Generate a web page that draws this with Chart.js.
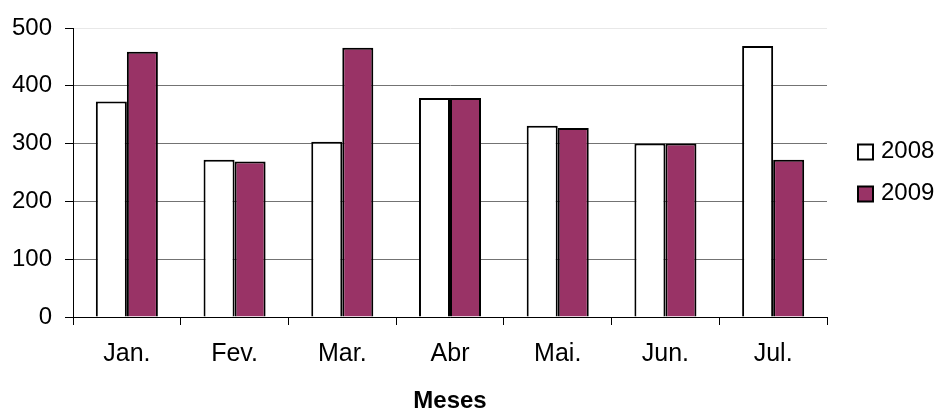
<!DOCTYPE html>
<html>
<head>
<meta charset="utf-8">
<script src="https://cdn.jsdelivr.net/npm/chart.js"></script>
<style>
  html, body { margin: 0; padding: 0; background: #fff; }
  #wrap { width: 937px; height: 410px; }
</style>
</head>
<body>
<div id="wrap"><canvas id="chart" width="937" height="410"></canvas></div>
<script>
const months = ['Jan.', 'Fev.', 'Mar.', 'Abr', 'Mai.', 'Jun.', 'Jul.'];
const values2008 = [373, 272, 303, 379, 331, 300, 469];
const values2009 = [459, 269, 466, 379, 327, 300, 272];
const seriesNames = ['2008', '2009'];
const yTicks = [0, 100, 200, 300, 400, 500];

const FONT = "'Liberation Sans', Arial, sans-serif";

// legend drawn at the right, like the original spreadsheet chart
const sideLegend = {
    id: 'sideLegend',
    afterDraw(chart) {
        const ctx = chart.ctx;
        const area = chart.chartArea;
        const mid = (area.top + area.bottom) / 2;
        const x = area.right + 31;
        const gap = 42;
        const sets = chart.data.datasets;
        ctx.save();
        ctx.font = '24px ' + FONT;
        ctx.textBaseline = 'middle';
        sets.forEach((ds, i) => {
            const cy = mid + (i - (sets.length - 1) / 2) * gap;
            ctx.fillStyle = ds.backgroundColor;
            ctx.fillRect(x, cy - 7, 15, 15);
            ctx.lineWidth = 2;
            ctx.strokeStyle = '#000';
            ctx.strokeRect(x, cy - 7, 15, 15);
            ctx.fillStyle = '#000';
            ctx.fillText(ds.label, x + 23, cy);
        });
        ctx.restore();
    }
};

const ctx = document.getElementById('chart');
new Chart(ctx, {
    type: 'bar',
    data: {
        labels: months,
        datasets: [{
            label: seriesNames[0],
            data: values2008,
            backgroundColor: '#ffffff',
            borderColor: '#000000',
            borderWidth: 2
        }, {
            label: seriesNames[1],
            data: values2009,
            backgroundColor: '#993366',
            borderColor: '#000000',
            borderWidth: 2
        }]
    },
    options: {
        responsive: false,
        animation: false,
        devicePixelRatio: 1,
        layout: { padding: { left: 0, right: 110, top: 28, bottom: 0 } },
        datasets: { bar: { categoryPercentage: 0.576, barPercentage: 1.0 } },
        plugins: {
            legend: { display: false },
            tooltip: { enabled: false }
        },
        scales: {
            x: {
                grid: {
                    drawOnChartArea: false,
                    tickLength: 8,
                    tickColor: '#000',
                    offset: true
                },
                border: { color: '#000', width: 1 },
                ticks: {
                    color: '#000',
                    padding: 14,
                    font: { family: FONT, size: 25 }
                },
                title: {
                    display: true,
                    text: 'Meses',
                    color: '#000',
                    padding: { top: 0, bottom: 0 },
                    font: { family: FONT, size: 24, weight: 'bold', lineHeight: 0.7 }
                },
                afterFit: s => { s.height = 93; }
            },
            y: {
                min: 0,
                max: 500,
                afterBuildTicks: s => { s.ticks = yTicks.map(v => ({ value: v })); },
                grid: {
                    color: c => (c.tick && c.tick.value === 500) ? '#e8e8e8' : '#737373',
                    tickColor: '#000',
                    tickLength: 8,
                    lineWidth: 1
                },
                border: { color: '#000', width: 1 },
                ticks: {
                    color: '#000',
                    padding: 13,
                    font: { family: FONT, size: 24 }
                },
                afterFit: s => { s.width = 73; }
            }
        }
    },
    plugins: [sideLegend]
});
</script>
</body>
</html>
